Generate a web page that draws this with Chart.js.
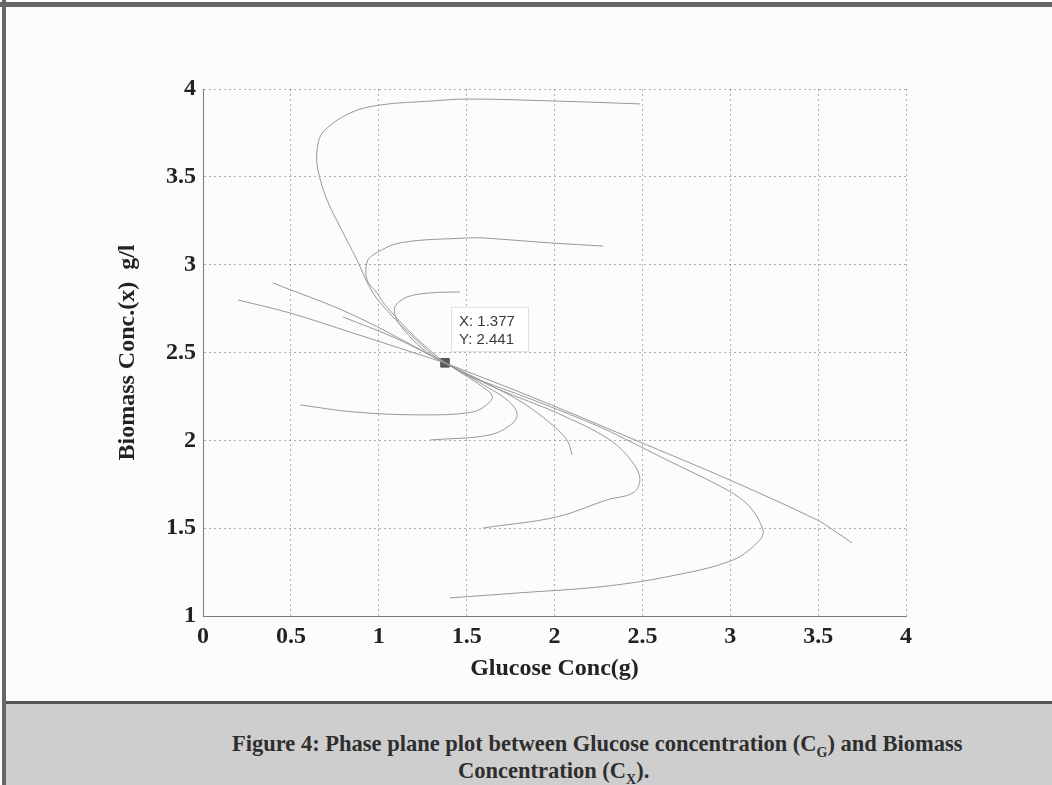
<!DOCTYPE html>
<html>
<head>
<meta charset="utf-8">
<script src="https://cdn.jsdelivr.net/npm/chart.js@4.4.0/dist/chart.umd.min.js"></script>
<style>
  html, body { margin: 0; padding: 0; background: #fcfcfc; }
  #page { position: relative; width: 1052px; height: 785px; overflow: hidden; background: #fcfcfc; }
  #frameTop { position: absolute; left: 0; top: 2px; width: 1052px; height: 5px; background: #676767; }
  #frameLeft { position: absolute; left: 2px; top: 0; width: 4px; height: 785px; background: #676767; }
  #chartBox { position: absolute; left: 0; top: 0; width: 1052px; height: 700px; }
  #caption { position: absolute; left: 6px; top: 701px; width: 1046px; height: 84px; background: #cecece; border-top: 3px solid #555; }
  .cap { position: absolute; font: bold 22.5px "Liberation Serif", "Times New Roman", serif; color: #2e2e2e; white-space: nowrap; }
  .cap sub { font-size: 14px; }
</style>
</head>
<body>
<div id="page">
  <div id="chartBox"><canvas id="phase" width="1052" height="700"></canvas></div>
  <div id="frameTop"></div>
  <div id="frameLeft"></div>
  <div id="caption">
    <div class="cap" style="left:226px; top:27px;">Figure 4: Phase plane plot between Glucose concentration (C<sub>G</sub>) and Biomass</div>
    <div class="cap" style="left:452px; top:54px;">Concentration (C<sub>X</sub>).</div>
  </div>
</div>
<script>
// tick labels
const xTicks = [0, 0.5, 1, 1.5, 2, 2.5, 3, 3.5, 4];
const yTicks = [1, 1.5, 2, 2.5, 3, 3.5, 4];

// equilibrium point (data cursor)
const eqX = [1.377];
const eqY = [2.441];

// trajectories (glucose x, biomass y)
const trajA_x = [2.487, 1.991, 1.502, 1.309, 1.007, 0.836, 0.683, 0.649, 0.654, 0.706, 0.780, 0.876, 0.967, 1.081, 1.195, 1.309, 1.377];
const trajA_y = [3.915, 3.932, 3.943, 3.932, 3.909, 3.863, 3.755, 3.653, 3.539, 3.368, 3.215, 3.027, 2.839, 2.702, 2.589, 2.486, 2.441];

const trajB_x = [2.276, 1.974, 1.593, 1.502, 1.121, 0.967, 0.933, 0.933, 0.990, 1.036, 1.178, 1.309, 1.377];
const trajB_y = [3.106, 3.124, 3.152, 3.152, 3.124, 3.055, 3.015, 2.913, 2.839, 2.771, 2.617, 2.497, 2.441];

const trajC_x = [1.462, 1.292, 1.161, 1.092, 1.104, 1.195, 1.303, 1.377];
const trajC_y = [2.845, 2.839, 2.816, 2.759, 2.685, 2.571, 2.480, 2.441];

const trajL1_x = [0.398, 0.853, 1.377];
const trajL1_y = [2.896, 2.714, 2.441];

const trajL2_x = [0.199, 0.495, 0.853, 1.377];
const trajL2_y = [2.799, 2.725, 2.611, 2.441];

const trajL3_x = [0.797, 1.100, 1.377];
const trajL3_y = [2.702, 2.580, 2.441];

const trajE_x = [0.552, 0.853, 1.235, 1.536, 1.633, 1.644, 1.576, 1.462, 1.377];
const trajE_y = [2.202, 2.162, 2.145, 2.162, 2.219, 2.258, 2.315, 2.389, 2.441];

const trajF_x = [1.292, 1.633, 1.764, 1.787, 1.730, 1.616, 1.491, 1.377];
const trajF_y = [2.002, 2.031, 2.099, 2.156, 2.230, 2.304, 2.378, 2.441];

const trajG_x = [2.100, 2.071, 1.974, 1.821, 1.633, 1.462, 1.377];
const trajG_y = [1.917, 2.002, 2.099, 2.213, 2.315, 2.400, 2.441];

const trajH_x = [1.593, 2.014, 2.299, 2.447, 2.486, 2.447, 2.316, 2.014, 1.690, 1.519, 1.377];
const trajH_y = [1.501, 1.564, 1.661, 1.701, 1.775, 1.871, 2.002, 2.156, 2.287, 2.367, 2.441];

const trajI_x = [1.405, 1.804, 2.259, 2.640, 3.016, 3.169, 3.186, 3.112, 2.981, 2.640, 2.447, 2.259, 1.878, 1.502, 1.377];
const trajI_y = [1.103, 1.132, 1.166, 1.223, 1.319, 1.433, 1.490, 1.621, 1.718, 1.888, 1.985, 2.076, 2.230, 2.372, 2.441];

const trajJ_x = [3.693, 3.585, 3.494, 3.016, 2.447, 1.878, 1.377];
const trajJ_y = [1.416, 1.490, 1.547, 1.766, 2.007, 2.244, 2.441];

const trajectories = [
  [trajA_x, trajA_y], [trajB_x, trajB_y], [trajC_x, trajC_y],
  [trajL1_x, trajL1_y], [trajL2_x, trajL2_y], [trajL3_x, trajL3_y],
  [trajE_x, trajE_y], [trajF_x, trajF_y], [trajG_x, trajG_y],
  [trajH_x, trajH_y], [trajI_x, trajI_y], [trajJ_x, trajJ_y]
];

const toPoints = (xs, ys) => xs.map((v, i) => ({ x: v, y: ys[i] }));

const datasets = trajectories.map(([xs, ys]) => ({
  data: toPoints(xs, ys),
  showLine: true,
  borderColor: "#989898",
  borderWidth: 1,
  pointRadius: 0,
  tension: 0.35
}));

datasets.push({
  data: toPoints(eqX, eqY),
  showLine: false,
  pointStyle: "rect",
  pointRadius: 6,
  backgroundColor: "#5c5c5c",
  borderColor: "#484848",
  borderWidth: 1
});

// data cursor box next to the equilibrium point
const cursorBox = {
  id: "cursorBox",
  afterDatasetsDraw(chart) {
    const { ctx, scales } = chart;
    const px = scales.x.getPixelForValue(eqX[0]);
    const py = scales.y.getPixelForValue(eqY[0]);
    const bx = px + 6, by = py - 56, bw = 77, bh = 44;
    ctx.save();
    ctx.fillStyle = "#ffffff";
    ctx.fillRect(bx, by, bw, bh);
    ctx.strokeStyle = "#e2e2e2";
    ctx.lineWidth = 1;
    ctx.strokeRect(bx + 0.5, by + 0.5, bw, bh);
    ctx.fillStyle = "#3a3a3a";
    ctx.font = "15px 'Liberation Sans', Arial, sans-serif";
    ctx.textBaseline = "middle";
    ctx.fillText("X: " + eqX[0].toFixed(3), bx + 8, by + 15);
    ctx.fillText("Y: " + eqY[0].toFixed(3), bx + 8, by + 33);
    ctx.restore();
  }
};

const tickFont = { family: "'Liberation Serif', 'Times New Roman', serif", size: 24, weight: "bold" };
const titleFont = { family: "'Liberation Serif', 'Times New Roman', serif", size: 24, weight: "bold" };

new Chart(document.getElementById("phase"), {
  type: "scatter",
  data: { datasets: datasets },
  options: {
    responsive: false,
    animation: false,
    layout: { padding: { top: 89, right: 146, left: 0, bottom: 0 } },
    plugins: {
      legend: { display: false },
      tooltip: { enabled: false }
    },
    scales: {
      x: {
        type: "linear",
        min: 0,
        max: 4,
        afterBuildTicks: (s) => { s.ticks = xTicks.map((v) => ({ value: v })); },
        afterFit: (s) => { s.height = 84; },
        ticks: { color: "#222", font: tickFont, padding: 6, maxRotation: 0, callback: (v) => String(v) },
        grid: { color: "rgba(110,110,110,0.55)", lineWidth: 1, drawTicks: false },
        border: { display: true, color: "#7a7a7a", width: 1, dash: [2, 3] },
        title: { display: true, text: "Glucose Conc(g)", color: "#222", font: titleFont, padding: { bottom: 17 } }
      },
      y: {
        type: "linear",
        min: 1,
        max: 4,
        afterBuildTicks: (s) => { s.ticks = yTicks.map((v) => ({ value: v })); },
        afterFit: (s) => { s.width = 203; },
        ticks: { color: "#222", font: tickFont, padding: 7, callback: (v) => String(v) },
        grid: { color: "rgba(110,110,110,0.55)", lineWidth: 1, drawTicks: false },
        border: { display: true, color: "#7a7a7a", width: 1, dash: [2, 3] },
        title: { display: true, text: "Biomass Conc.(x)  g/l", color: "#222", font: titleFont, padding: { top: 113 } }
      }
    }
  },
  plugins: [cursorBox]
});
</script>
</body>
</html>
